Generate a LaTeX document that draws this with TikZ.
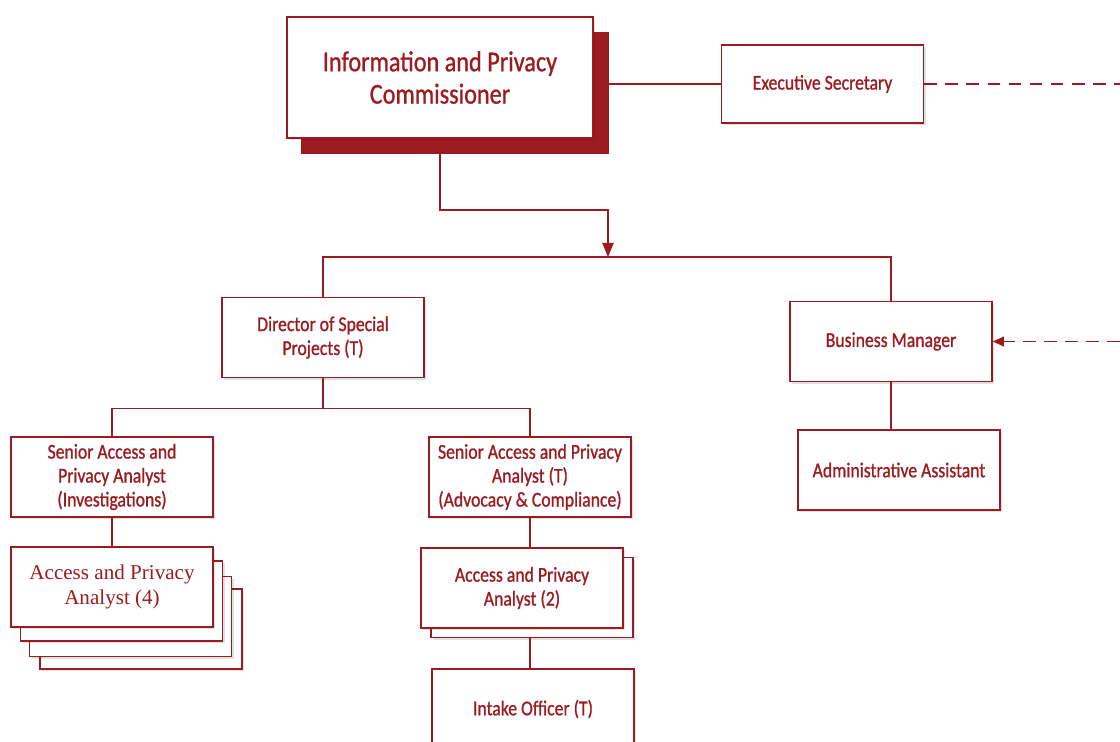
\documentclass[tikz,border=0pt]{standalone}
\usepackage{fontspec}
\setmainfont{Carlito}[FakeStretch=0.84, FakeBold=0.9]
\newfontfamily\analystfont{Liberation Serif}
\usepackage{tikz}
\usetikzlibrary{positioning}
\usetikzlibrary{calc}
\usetikzlibrary{arrows.meta}
\usetikzlibrary{shadows}
\definecolor{oipcred}{RGB}{155,27,32}

\begin{document}
\begin{tikzpicture}[x=0.025cm, y=-0.025cm,
    post/.style={draw=oipcred, line width=1pt, fill=white, text=oipcred,
        minimum width=5.05cm, minimum height=2cm, inner sep=2pt, align=center,
        font=\fontsize{15}{17}\selectfont,
        drop shadow={shadow xshift=1.6pt, shadow yshift=-1.6pt, fill=black, opacity=0.12}},
    stackpost/.style={post, drop shadow={opacity=0}},
    link/.style={draw=oipcred, line width=1pt},
    dotted link/.style={link, dash pattern=on 9pt off 6pt}]

    \useasboundingbox (0,0) rectangle (1120,742);
    \clip (0,0) rectangle (1120,742);

    % top
    \node [fill=oipcred, minimum width=7.7cm, minimum height=3.05cm] (ipcshadow) at (455,93) {};
    \node [post, minimum width=7.65cm, minimum height=3.03cm, font=\fontsize{20.5}{23}\selectfont, drop shadow={opacity=0}] (ipc) at (440,77.5) {Information and Privacy\\Commissioner};
    \node [post, minimum height=1.95cm] (exec) at (822.5,84) {Executive Secretary};

    \coordinate (split) at (608,210);
    \coordinate (bus) at (608,257);
    \coordinate (outR1) at (1120,84);
    \coordinate (outR2) at (1120,341.5);

    % second row
    \node [post] (dir) at (323,337.5) {Director of Special\\Projects (T)};
    \node [post] (bm) at (891,341.5) {Business Manager};
    \node [post] (admin) at (899,470) {Administrative Assistant};

    \coordinate (dirbus) at ($(dir.south)+(0,30)$);

    % analysts
    \node [post] (sen1) at (112,477) {Senior Access and\\Privacy Analyst\\(Investigations)};
    \node [post] (sen2) at (530,477) {Senior Access and Privacy\\Analyst (T)\\(Advocacy \& Compliance)};

    \node [stackpost] (apa4c) at (141,629) {};
    \node [stackpost] (apa4b) at (130.5,616.5) {};
    \node [stackpost] (apa4a) at (121.5,601) {};
    \node [post, font=\analystfont\fontsize{15}{17.5}\selectfont] (apa4) at (112,587) {Access and Privacy\\Analyst (4)};

    \node [stackpost] (apa2b) at (532,597.5) {};
    \node [post] (apa2) at (522,588) {Access and Privacy\\Analyst (2)};

    \node [post] (intake) at (533,709) {Intake Officer (T)};

    % connectors
    \draw [link] (exec.west -| ipcshadow.east) -- (exec.west);
    \draw [dotted link] (exec.east) -- (outR1);
    \draw [dotted link, -{Triangle[length=8pt, width=7pt]}] (outR2) -- (bm.east);

    \draw [link, -{Triangle[length=10pt, width=8pt]}] (ipcshadow.south -| ipc.south) |- (split) -- (bus);
    \draw [link] (dir.north) |- (bus) -| (bm.north);
    \draw [link] (bm.south) -- (bm.south |- admin.north);

    \draw [link] (dir.south) -- (dirbus);
    \draw [link] (sen1.north) |- (dirbus) -| (sen2.north);
    \draw [link] (sen1.south) -- (apa4.north);
    \draw [link] (sen2.south) -- (sen2.south |- apa2.north);
    \draw [link] (apa2b.south -| sen2.south) -- (sen2.south |- intake.north);

\end{tikzpicture}
\end{document}
